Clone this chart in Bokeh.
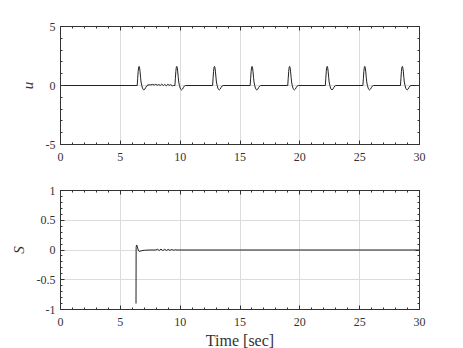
from bokeh.plotting import figure
from bokeh.layouts import column
from bokeh.models import LinearAxis, SingleIntervalTicker, Range1d, CustomJSTickFormatter
from bokeh.embed import file_html
from bokeh.resources import INLINE

# ---- data ----
# pulse start times of u (sec)
pulse_starts = [6.41, 9.56, 12.71, 15.85, 18.99, 22.13, 25.27, 28.41]
# shape of one pulse: time offset from start and value
pulse_dt = [0.00, 0.04, 0.08, 0.12, 0.16, 0.20, 0.24, 0.28, 0.32, 0.38, 0.44, 0.50, 0.56, 0.64, 0.72, 0.80, 0.88]
pulse_u = [0.00, 0.60, 1.20, 1.55, 1.62, 1.50, 1.15, 0.70, 0.30, 0.00, -0.22, -0.34, -0.38, -0.30, -0.15, -0.04, 0.00]
# chattering between the first two pulses
chatter_t = [7.25, 7.4, 7.55, 7.7, 7.85, 7.95, 8.1, 8.2, 8.35, 8.45, 8.6, 8.7, 8.85, 8.95, 9.1, 9.2, 9.35, 9.45]
chatter_u = [0.02, 0.06, 0.05, 0.09, 0.04, 0.10, 0.03, 0.08, 0.01, 0.11, 0.00, 0.09, -0.02, 0.10, 0.02, 0.07, -0.03, 0.00]

# sliding variable S
s_t = [6.31, 6.32, 6.35, 6.37, 6.42, 6.50, 6.58, 6.66, 6.80, 7.00, 7.40,
       7.95, 8.10, 8.25, 8.40, 8.55, 8.70, 8.85, 9.00, 9.15, 9.30, 9.45, 9.60, 9.75, 30.0]
s_v = [-0.90, 0.04, 0.080, 0.085, 0.05, 0.00, -0.025, -0.020, -0.010, -0.005, 0.0,
       0.0, 0.012, -0.008, 0.015, -0.010, 0.012, -0.008, 0.010, -0.006, 0.008, -0.004, 0.004, 0.0, 0.0]

x_ticks_interval = 5

# ---- assemble u series ----
u_t = [0.0]
u_v = [0.0]
for i, t0 in enumerate(pulse_starts):
    for dt, v in zip(pulse_dt, pulse_u):
        u_t.append(t0 + dt)
        u_v.append(v)
    if i == 0:
        u_t.extend(chatter_t)
        u_v.extend(chatter_u)
u_t.append(30.0)
u_v.append(0.0)

FONT = "'Liberation Serif'"
GRID = "#dcdcdc"
LINE = "#222222"
AX = "#333333"


def style(p, yint):
    xt = SingleIntervalTicker(interval=x_ticks_interval, num_minor_ticks=5)
    yt = SingleIntervalTicker(interval=yint, num_minor_ticks=5)
    xb = p.below[0]
    yl = p.left[0]
    xb.ticker = xt
    yl.ticker = yt
    p.xgrid.ticker = xt
    p.ygrid.ticker = yt
    for ax in [xb, yl]:
        ax.formatter = CustomJSTickFormatter(code="return tick.toString()")
        ax.major_tick_in = 4
        ax.major_tick_out = 0
        ax.minor_tick_in = 2
        ax.minor_tick_out = 0
        ax.major_label_text_font = FONT
        ax.major_label_text_font_size = "12px"
        ax.major_label_text_color = AX
        ax.axis_label_text_font = FONT
        ax.axis_label_text_font_size = "15px"
        ax.axis_label_text_color = AX
        ax.axis_label_text_font_style = "italic"
        ax.axis_line_color = AX
        ax.major_tick_line_color = AX
        ax.minor_tick_line_color = AX
    xb.major_label_standoff = 8
    yl.major_label_standoff = 5
    yl.axis_label_standoff = 7
    # mirror axes (ticks only, no labels)
    for loc, tick in [("above", xt), ("right", yt)]:
        a = LinearAxis(ticker=tick, major_tick_in=4, major_tick_out=0,
                       minor_tick_in=2, minor_tick_out=0,
                       formatter=CustomJSTickFormatter(code="return ''"),
                       major_label_standoff=0,
                       axis_line_color=AX, major_tick_line_color=AX,
                       minor_tick_line_color=AX)
        p.add_layout(a, loc)
    p.xgrid.grid_line_color = GRID
    p.ygrid.grid_line_color = GRID
    p.outline_line_color = AX
    p.outline_line_width = 1
    return xb, yl


p1 = figure(frame_width=359, frame_height=118, min_border_left=60, min_border_right=30,
            min_border_top=26, min_border_bottom=24,
            x_range=Range1d(0, 30), y_range=Range1d(-5, 5),
            output_backend="svg", toolbar_location=None)
p1.line(u_t, u_v, line_color=LINE, line_width=1)
xb1, yl1 = style(p1, 5)
yl1.axis_label = "u"

p2 = figure(frame_width=359, frame_height=119, min_border_left=60, min_border_right=30,
            min_border_top=22, min_border_bottom=38,
            x_range=Range1d(0, 30), y_range=Range1d(-1, 1),
            output_backend="svg", toolbar_location=None)
p2.line(s_t, s_v, line_color=LINE, line_width=1)
xb2, yl2 = style(p2, 0.5)
yl2.axis_label = "S"
xb2.axis_label = "Time [sec]"
xb2.axis_label_text_font_style = "normal"
xb2.axis_label_text_font_size = "16px"
xb2.axis_label_standoff = 3

layout = column(p1, p2, spacing=0)
open("out.html", "w").write(file_html(layout, INLINE))
